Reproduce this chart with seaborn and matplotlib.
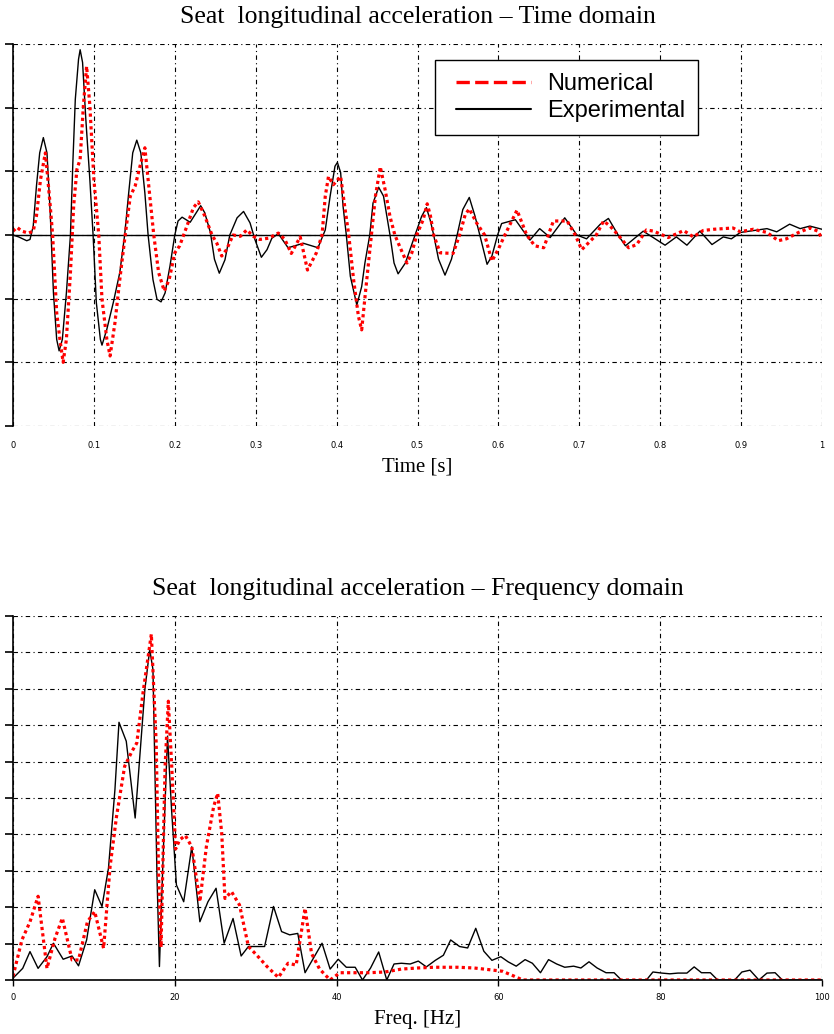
import numpy as np
import pandas as pd
import seaborn as sns
import matplotlib.pyplot as plt
from matplotlib.lines import Line2D
from matplotlib.legend_handler import HandlerLine2D

# ── time domain: experimental (black) ─────────────────────────
t_exp = [0.000, 0.007, 0.017, 0.021, 0.025, 0.029, 0.033, 0.0375, 0.042, 0.046,
         0.050, 0.054, 0.057, 0.061, 0.066, 0.071, 0.074, 0.077, 0.081, 0.083,
         0.086, 0.090, 0.095, 0.099, 0.103, 0.108, 0.110, 0.116, 0.124, 0.132,
         0.138, 0.143, 0.148, 0.153, 0.158, 0.163, 0.167, 0.173, 0.178, 0.183,
         0.188, 0.194, 0.200, 0.204, 0.209, 0.219, 0.232, 0.237, 0.244, 0.249,
         0.255, 0.262, 0.268, 0.277, 0.285, 0.293, 0.299, 0.307, 0.314, 0.320,
         0.328, 0.340, 0.359, 0.377, 0.386, 0.392, 0.398, 0.401, 0.405, 0.408,
         0.412, 0.417, 0.425, 0.431, 0.435, 0.441, 0.445, 0.452, 0.458, 0.466,
         0.471, 0.476, 0.485, 0.497, 0.505, 0.511, 0.516, 0.520, 0.526, 0.534,
         0.542, 0.549, 0.556, 0.564, 0.571, 0.577, 0.586, 0.592, 0.599, 0.604,
         0.621, 0.631, 0.639, 0.651, 0.664, 0.682, 0.697, 0.709, 0.726, 0.736,
         0.748, 0.757, 0.779, 0.806, 0.820, 0.833, 0.849, 0.864, 0.878, 0.888,
         0.899, 0.932, 0.944, 0.960, 0.973, 0.985, 1.000]
acc_exp = [0.00, -0.03, -0.09, -0.07, 0.14, 0.77, 1.29, 1.53, 1.29, 0.35,
           -0.91, -1.64, -1.82, -1.64, -0.91, 0.00, 1.14, 2.13, 2.76, 2.91,
           2.71, 1.82, 0.87, 0.00, -1.06, -1.64, -1.73, -1.48, -1.06, -0.59,
           0.00, 0.66, 1.29, 1.49, 1.29, 0.66, 0.00, -0.70, -1.01, -1.05,
           -0.91, -0.49, 0.00, 0.22, 0.28, 0.20, 0.46, 0.35, 0.04, -0.38,
           -0.60, -0.39, 0.00, 0.27, 0.37, 0.19, -0.07, -0.35, -0.23, -0.05,
           0.02, -0.20, -0.13, -0.20, 0.08, 0.61, 1.08, 1.14, 0.98, 0.45,
           0.00, -0.65, -1.10, -0.81, -0.44, 0.00, 0.50, 0.75, 0.61, 0.00,
           -0.44, -0.61, -0.44, 0.00, 0.29, 0.43, 0.22, 0.00, -0.38, -0.63,
           -0.38, 0.00, 0.40, 0.59, 0.30, 0.00, -0.46, -0.33, 0.00, 0.18,
           0.24, 0.06, -0.08, 0.10, -0.04, 0.27, 0.00, -0.06, 0.17, 0.26,
           0.00, -0.17, 0.06, -0.16, -0.03, -0.16, 0.06, -0.15, -0.03, -0.06,
           0.04, 0.10, 0.05, 0.17, 0.10, 0.14, 0.09]

# ── time domain: numerical (red) ──────────────────────────────
t_num = [0.000, 0.005, 0.011, 0.019, 0.025, 0.029, 0.034, 0.040, 0.042, 0.046,
         0.049, 0.054, 0.058, 0.062, 0.066, 0.071, 0.075, 0.079, 0.083, 0.087,
         0.091, 0.095, 0.100, 0.106, 0.110, 0.116, 0.120, 0.126, 0.132, 0.138,
         0.145, 0.151, 0.157, 0.163, 0.167, 0.174, 0.180, 0.187, 0.193, 0.200,
         0.206, 0.215, 0.223, 0.229, 0.237, 0.246, 0.252, 0.258, 0.264, 0.272,
         0.281, 0.289, 0.297, 0.305, 0.316, 0.328, 0.336, 0.344, 0.355, 0.364,
         0.375, 0.382, 0.386, 0.390, 0.396, 0.405, 0.410, 0.415, 0.421, 0.427,
         0.431, 0.436, 0.443, 0.448, 0.454, 0.460, 0.466, 0.472, 0.478, 0.487,
         0.493, 0.499, 0.507, 0.512, 0.516, 0.520, 0.528, 0.544, 0.552, 0.559,
         0.564, 0.573, 0.583, 0.592, 0.600, 0.608, 0.623, 0.635, 0.645, 0.656,
         0.668, 0.685, 0.695, 0.703, 0.721, 0.730, 0.738, 0.748, 0.761, 0.771,
         0.783, 0.792, 0.810, 0.829, 0.841, 0.853, 0.866, 0.878, 0.890, 0.899,
         0.915, 0.932, 0.946, 0.956, 0.971, 0.985, 0.995, 1.000]
acc_num = [0.06, 0.12, 0.06, 0.03, 0.06, 0.30, 0.87, 1.29, 1.03, 0.46,
           0.00, -1.22, -1.64, -2.00, -1.64, -0.59, 0.46, 1.03, 1.19, 2.03,
           2.65, 2.03, 0.87, 0.00, -1.01, -1.64, -1.90, -1.38, -0.70, -0.07,
           0.61, 0.77, 1.08, 1.37, 0.87, 0.00, -0.59, -0.88, -0.70, -0.28,
           -0.17, 0.14, 0.43, 0.52, 0.30, 0.00, -0.13, -0.33, -0.23, 0.00,
           -0.02, 0.08, -0.02, -0.07, -0.05, 0.03, -0.07, -0.29, -0.03, -0.55,
           -0.28, 0.00, 0.61, 0.92, 0.79, 0.92, 0.45, 0.00, -0.70, -1.28,
           -1.49, -0.86, 0.00, 0.61, 1.07, 0.71, 0.29, 0.00, -0.18, -0.44,
           -0.28, 0.00, 0.24, 0.49, 0.30, 0.00, -0.28, -0.29, 0.00, 0.32,
           0.41, 0.19, 0.00, -0.41, -0.22, 0.00, 0.39, 0.00, -0.17, -0.20,
           0.22, 0.22, 0.00, -0.23, 0.00, 0.22, 0.14, 0.00, -0.20, -0.15,
           0.08, 0.06, -0.04, 0.07, -0.03, 0.07, 0.09, 0.10, 0.11, 0.05,
           0.09, 0.04, -0.09, -0.06, 0.04, 0.11, 0.06, -0.06]

# ── frequency domain: experimental (black) ────────────────────
f_exp = [0.0, 1.2, 2.1, 3.1, 4.2, 5.0, 6.2, 7.3, 8.1, 9.1,
         10.1, 11.0, 11.8, 12.6, 13.1, 14.0, 15.1, 16.3, 16.9, 17.3,
         17.8, 18.1, 18.5, 19.1, 19.6, 20.0, 20.2, 21.1, 22.1, 23.1,
         24.1, 25.1, 26.1, 27.2, 28.2, 29.1, 31.1, 32.2, 33.2, 34.2,
         35.2, 36.1, 38.2, 39.2, 40.2, 41.2, 42.3, 43.2, 44.2, 45.2,
         46.2, 47.1, 48.0, 49.1, 50.1, 51.1, 52.2, 53.2, 54.1, 55.2,
         56.2, 57.2, 58.2, 59.2, 60.3, 61.2, 62.2, 63.3, 64.2, 65.2,
         66.2, 67.2, 68.2, 69.3, 70.2, 71.2, 72.2, 73.3, 74.3, 75.2,
         78.3, 79.1, 80.2, 81.2, 82.2, 83.3, 84.2, 85.1, 86.2, 87.1,
         89.2, 90.1, 91.1, 92.2, 93.2, 94.2, 95.1, 100.0]
amp_exp = [0.05, 0.32, 0.78, 0.32, 0.64, 1.01, 0.57, 0.66, 0.39, 1.10,
           2.48, 2.02, 3.07, 5.23, 7.08, 6.56, 4.45, 7.98, 9.08, 8.53,
           2.84, 0.37, 3.03, 6.70, 4.68, 3.30, 2.61, 2.15, 3.66, 1.60,
           2.15, 2.52, 1.01, 1.69, 0.66, 0.92, 0.92, 2.02, 1.33, 1.24,
           1.28, 0.20, 1.01, 0.30, 0.57, 0.35, 0.35, 0.00, 0.33, 0.77,
           0.00, 0.44, 0.46, 0.44, 0.52, 0.36, 0.54, 0.68, 1.10, 0.92,
           0.88, 1.42, 0.79, 0.54, 0.64, 0.50, 0.38, 0.56, 0.46, 0.20,
           0.56, 0.44, 0.35, 0.38, 0.33, 0.50, 0.33, 0.20, 0.20, 0.00,
           0.00, 0.22, 0.19, 0.17, 0.19, 0.19, 0.36, 0.20, 0.20, 0.00,
           0.00, 0.22, 0.27, 0.00, 0.19, 0.20, 0.00, 0.00]

# ── frequency domain: numerical (red) ─────────────────────────
f_num = [0.0, 1.1, 2.1, 3.1, 4.2, 5.2, 6.1, 7.3, 8.1, 9.2,
         10.1, 11.2, 12.0, 12.8, 13.8, 14.7, 15.3, 16.1, 17.1, 17.7,
         18.0, 18.3, 18.8, 19.2, 19.6, 20.1, 20.6, 21.3, 22.1, 23.1,
         23.9, 24.8, 25.3, 25.8, 26.2, 27.0, 28.0, 29.1, 30.1, 31.4,
         32.8, 34.0, 35.0, 36.1, 36.9, 37.9, 39.2, 40.4, 42.0, 44.0,
         46.0, 48.0, 50.0, 52.0, 55.0, 57.0, 59.0, 60.5, 62.0, 63.0,
         100.0]
amp_num = [0.10, 1.10, 1.60, 2.30, 0.32, 1.15, 1.70, 0.55, 0.55, 1.60,
           1.88, 0.87, 3.12, 4.50, 5.87, 6.28, 6.51, 7.94, 9.50, 6.50,
           2.84, 0.90, 5.87, 7.66, 5.96, 3.60, 3.85, 3.97, 3.66, 2.15,
           3.66, 4.76, 5.13, 4.03, 2.24, 2.43, 2.06, 0.92, 0.69, 0.37,
           0.07, 0.46, 0.41, 1.97, 0.73, 0.30, 0.00, 0.20, 0.20, 0.20,
           0.22, 0.30, 0.33, 0.35, 0.35, 0.33, 0.28, 0.24, 0.10, 0.00,
           0.00]

time_ticks = [0, 0.1, 0.2, 0.3, 0.4, 0.5, 0.6, 0.7, 0.8, 0.9, 1]
time_labels = ["0", "0.1", "0.2", "0.3", "0.4", "0.5", "0.6", "0.7", "0.8", "0.9", "1"]
freq_ticks = [0, 20, 40, 60, 80, 100]
freq_labels = ["0", "20", "40", "60", "80", "100"]

title_time = "Seat  longitudinal acceleration \u2013 Time domain"
title_freq = "Seat  longitudinal acceleration \u2013 Frequency domain"

sns.set_theme(style="white")
plt.rcParams["font.family"] = ["Liberation Serif", "DejaVu Sans"]
plt.rcParams["text.color"] = "black"
plt.rcParams["axes.labelcolor"] = "black"
plt.rcParams["xtick.color"] = "black"
plt.rcParams["ytick.color"] = "black"

fig = plt.figure(figsize=(8.34, 10.34), dpi=100)
ax1 = fig.add_axes([13 / 834, 1 - 426 / 1034, 809 / 834, 382 / 1034])
ax2 = fig.add_axes([13 / 834, 1 - 980 / 1034, 809 / 834, 364 / 1034])

grid_ls = (0, (4, 3, 1, 3))
red_ls = (0, (1, 1))

# Time domain
sns.lineplot(x=t_exp, y=acc_exp, ax=ax1, color="black", linewidth=1.0)
sns.lineplot(x=t_num, y=acc_num, ax=ax1, color="red", linewidth=2.3, linestyle=red_ls)
ax1.axhline(0, color="black", linewidth=1.0, zorder=1.5)
ax1.set_xlim(0, 1)
ax1.set_ylim(-3, 3)
ax1.set_yticks(np.arange(-3, 4, 1))
ax1.set_xticks(time_ticks, time_labels)

# Frequency domain
sns.lineplot(x=f_exp, y=amp_exp, ax=ax2, color="black", linewidth=1.0)
sns.lineplot(x=f_num, y=amp_num, ax=ax2, color="red", linewidth=2.3, linestyle=red_ls)
ax2.set_xlim(0, 100)
ax2.set_ylim(0, 10)
ax2.set_yticks(np.arange(0, 11, 1))
ax2.set_xticks(freq_ticks, freq_labels)

for ax in (ax1, ax2):
    ax.set_axisbelow(True)
    ax.grid(True, color="black", linestyle=grid_ls, linewidth=0.8)
    ax.set_yticklabels([])
    ax.set_ylabel("")
    for side in ("top", "right", "bottom"):
        ax.spines[side].set_visible(False)
    ax.spines["left"].set_color("black")
    ax.spines["left"].set_linewidth(1.2)
    ax.tick_params(axis="y", left=True, direction="out", length=6, width=1.2, color="black")
    for lab in ax.get_xticklabels():
        lab.set_family("DejaVu Sans")
        lab.set_fontsize(6)
        lab.set_color("black")

ax1.tick_params(axis="x", bottom=False, length=0, pad=11)
ax2.spines["bottom"].set_visible(True)
ax2.spines["bottom"].set_color("black")
ax2.spines["bottom"].set_linewidth(1.2)
ax2.tick_params(axis="x", bottom=True, direction="out", length=4, width=1.0, color="black", pad=5)

ax1.set_title(title_time, fontsize=18.5, pad=15, family="Liberation Serif", color="black")
ax2.set_title(title_freq, fontsize=18.5, pad=15, family="Liberation Serif", color="black")
ax1.set_xlabel("Time [s]", fontsize=15, labelpad=5, family="Liberation Serif", color="black")
ax2.set_xlabel("Freq. [Hz]", fontsize=15, labelpad=6, family="Liberation Serif", color="black")

handles = [Line2D([], [], color="red", linewidth=2.4, linestyle=(0, (4, 1.6))),
           Line2D([], [], color="black", linewidth=1.5)]
leg = ax1.legend(handles, ["Numerical", "Experimental"],
                 loc="upper left", bbox_to_anchor=(0.5216, 0.958), borderaxespad=0,
                 prop={"family": "Liberation Sans", "size": 17},
                 handlelength=3.5, handletextpad=0.7, borderpad=0.55, labelspacing=0.23,
                 handler_map={Line2D: HandlerLine2D(xpad=0.35)},
                 frameon=True, fancybox=False, framealpha=1, edgecolor="black")
leg.get_frame().set_linewidth(1.0)
for txt in leg.get_texts():
    txt.set_color("black")

fig.savefig("out.png", dpi=100)
